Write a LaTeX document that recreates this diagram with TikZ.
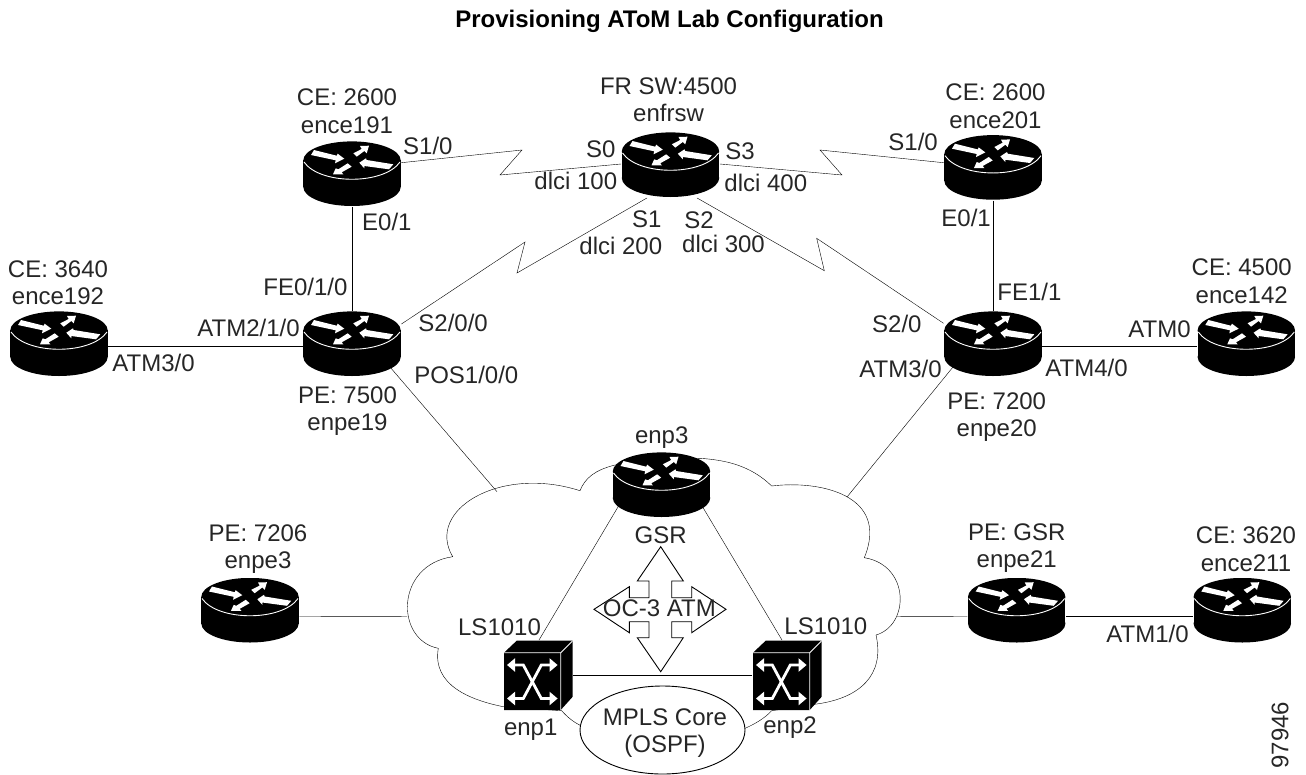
\documentclass[tikz,border=0pt]{standalone}
\usepackage{fontspec}
\setmainfont{Liberation Sans}
\usetikzlibrary{shapes,backgrounds,arrows.meta}
\newcommand{\twolines}[2]{\strut #1\\\strut #2}

\begin{document}
\begin{tikzpicture}[x=1pt,y=-1pt,line width=0.9pt,node distance=100pt,
    font=\fontsize{24}{27.3}\selectfont,
    lbl/.style={align=center,inner sep=0pt,text=black!85},
    ifc/.style={inner sep=0pt,anchor=base west,text=black!85},
    whitecross/.style={white,line width=2.8pt,
      {Triangle[length=8pt,width=13pt]}-{Triangle[length=8pt,width=13pt]}},
    router/.style={rectangle,inner sep=0pt,minimum width=98pt,minimum height=65pt,
      path picture={
        \begin{scope}[shift={(path picture bounding box.center)}]
          \fill (0,-13.6) ellipse [x radius=48.7pt,y radius=19pt];
          \fill (-48.7,-13.6) rectangle (48.7,13);
          \fill (0,13) ellipse [x radius=48.7pt,y radius=19pt];
          \draw[white] (-48,-12) .. controls (-32,11) and (32,11) .. (48,-12);
          \fill[white] (-38,-24) -- (-15.3,-18.3) -- (-14.3,-20.3) -- (-7.7,-15.3)
                -- (-17,-10.7) -- (-16.3,-13.7) -- (-41,-19) -- cycle;
          \fill[white] (17,-28.3) -- (8,-28) -- (9.7,-25) -- (1.3,-20.7)
                -- (4.7,-17.3) -- (12.3,-23) -- (14.7,-20.7) -- cycle;
          \fill[white] (7.3,-11.3) -- (14,-15.7) -- (14.7,-14) -- (41.3,-9.7)
                -- (37,-4.7) -- (12.3,-8) -- (12.3,-5.7) -- cycle;
          \fill[white] (-19,0.3) -- (-16.3,-5.7) -- (-13.7,-4.7) -- (-4.3,-10.7)
                -- (-0.3,-7.3) -- (-10.3,-1.7) -- (-8.7,0.3) -- cycle;
        \end{scope}}},
    atmswitch/.style={rectangle,inner sep=0pt,minimum width=69pt,minimum height=70pt,
      path picture={
        \begin{scope}[shift={(path picture bounding box.center)}]
          \fill (-34,-22.8) -- (-21.3,-34.8) -- (34.7,-34.8) -- (34.7,21.2)
                -- (22.7,34.5) -- (-34,34.5) -- cycle;
          \draw[white] (-34,-22.8) -- (22.7,-22.8) -- (22.7,34.5)
                       (22.7,-22.8) -- (34.7,-34.8);
          \draw[whitecross] (-31,-10.5) -- (-14.7,-10.5) -- (3.3,23) -- (19.6,23);
          \draw[whitecross] (19.6,-10.5) -- (3.3,-10.5) -- (-14.7,23) -- (-31,23);
        \end{scope}}}]

  \useasboundingbox (0,0) rectangle (1306,774);

  \node[anchor=base,inner sep=0pt,font=\fontsize{24}{28}\selectfont\bfseries] (title) at (669.5,27.7)
    {Provisioning AToM Lab Configuration};

  \node[router] (enfrsw) at (670.5,165) {};
  \node[router] (ence191) [left of=enfrsw,node distance=318.5pt,yshift=-9pt] {};
  \node[router] (ence201) [right of=enfrsw,node distance=322.5pt,yshift=-2.7pt] {};
  \node[router] (enpe19)  [below of=ence191,node distance=170pt] {};
  \node[router] (enpe20)  [below of=ence201,node distance=176.3pt] {};
  \node[router] (ence192) [left of=enpe19,node distance=293pt] {};
  \node[router] (ence142) [right of=enpe20,node distance=253.3pt] {};
  \node[router] (enp3) at (661.5,485) {};
  \node[atmswitch] (enp1) at (538,675.5) {};
  \node[atmswitch] (enp2) [right of=enp1,node distance=249pt] {};
  \node[router] (enpe3)   [left of=enp1,node distance=288pt,yshift=65pt] {};
  \node[router] (enpe21)  [right of=enp2,node distance=229.7pt,yshift=65pt] {};
  \node[router] (ence211) [right of=enpe21,node distance=225.6pt] {};

  \node[lbl] (ence191txt) [above of=ence191,node distance=60pt,xshift=-5pt] {\twolines{CE: 2600}{ence191}};
  \node[lbl] (enfrswtxt)  [above of=enfrsw,node distance=62.6pt,xshift=-2pt] {\twolines{FR SW:4500}{enfrsw}};
  \node[lbl] (ence201txt) [above of=ence201,node distance=58.7pt,xshift=2.5pt] {\twolines{CE: 2600}{ence201}};
  \node[lbl] (ence192txt) [above of=ence192,node distance=58.8pt,xshift=-1pt] {\twolines{CE: 3640}{ence192}};
  \node[lbl] (ence142txt) [above of=ence142,node distance=60.1pt,xshift=-4.6pt] {\twolines{CE: 4500}{ence142}};
  \node[lbl] (enpe19txt)  [below of=enpe19,node distance=67.5pt,xshift=-4.5pt] {\twolines{PE: 7500}{enpe19}};
  \node[lbl] (enpe20txt)  [below of=enpe20,node distance=73.2pt,xshift=3.7pt] {\twolines{PE: 7200}{enpe20}};
  \node[lbl] (enpe3txt)   [above of=enpe3,node distance=61.3pt,xshift=8pt] {\twolines{PE: 7206}{enpe3}};
  \node[lbl] (enpe21txt)  [above of=enpe21,node distance=62pt] {\twolines{PE: GSR}{enpe21}};
  \node[lbl] (ence211txt) [above of=ence211,node distance=58.5pt,xshift=3.7pt] {\twolines{CE: 3620}{ence211}};

  \node[ifc,anchor=base] (enp3txt) at (661.7,443) {enp3};
  \node[ifc,anchor=base] (gsrtxt)  at (660.7,543.3) {GSR};
  \node[ifc,anchor=base] (enp1txt) at (530.7,735.7) {enp1};
  \node[ifc,anchor=base] (enp2txt) at (790,733) {enp2};
  \node[ifc] (ls1)   at (457.7,635.7) {LS1010};
  \node[ifc] (ls2)   at (784,634) {LS1010};

  \node[ifc] (s10a)  at (402.7,154) {S1/0};
  \node[ifc] (e01a)  at (361.7,230.7) {E0/1};
  \node[ifc] (fe010) at (263,295.7) {FE0/1/0};
  \node[ifc] (atm210) at (197,336.7) {ATM2/1/0};
  \node[ifc] (atm30a) at (112,371.7) {ATM3/0};
  \node[ifc] (s200)  at (418,331.7) {S2/0/0};
  \node[ifc] (pos100) at (413.8,383) {POS1/0/0};
  \node[ifc] (s0)    at (585.7,157.7) {S0};
  \node[ifc] (dlci1) at (534,189.3) {dlci 100};
  \node[ifc] (s3)    at (725,159.3) {S3};
  \node[ifc] (dlci4) at (724,191.7) {dlci 400};
  \node[ifc] (s1)    at (631.7,227.7) {S1};
  \node[ifc] (dlci2) at (579,254.3) {dlci 200};
  \node[ifc] (s2)    at (684,228.3) {S2};
  \node[ifc] (dlci3) at (681.7,252.7) {dlci 300};
  \node[ifc] (s10b)  at (888,150.7) {S1/0};
  \node[ifc] (e01b)  at (941,226.7) {E0/1};
  \node[ifc] (fe11)  at (997,300.7) {FE1/1};
  \node[ifc] (s20)   at (871.7,332.7) {S2/0};
  \node[ifc] (atm30b) at (859,377) {ATM3/0};
  \node[ifc] (atm40) at (1045,376.7) {ATM4/0};
  \node[ifc] (atm0)  at (1128,337.7) {ATM0};
  \node[ifc] (atm10) at (1106,642.7) {ATM1/0};

  \node[lbl,rotate=90] (figno) at (1280,735) {97946};

  \draw[fill=white] (660.7,546.7) -- (683.3,581) -- (671.7,581) -- (671.7,597.7) -- (691.7,597.7)
    -- (691.7,586.7) -- (726,609.3) -- (691.7,632.7) -- (691.7,621.7) -- (671.7,621.7)
    -- (671.7,637.7) -- (683.3,637.7) -- (660.7,671.7) -- (637.3,637.7) -- (649,637.7)
    -- (649,621.7) -- (629.3,621.7) -- (629.3,632.7) -- (594,609.3) -- (629.3,586.7)
    -- (629.3,597.7) -- (649,597.7) -- (649,581) -- (637.3,581) -- cycle;
  \node[ifc,anchor=base] (ocatm) at (659.3,616.7) {OC-3 ATM};

  \node[ellipse,draw,fill=white,inner sep=0pt,minimum width=165pt,minimum height=88pt]
    (mpls) at (662.5,730) {};
  \node[lbl] (mplstxt) [below of=mpls,node distance=3.4pt,xshift=2.5pt] {\twolines{MPLS Core}{(OSPF)}};

  \coordinate (cloudnw) at (497,491.7);
  \coordinate (cloudne) at (847,497);
  \coordinate (cloudw)  at (407,616.7);
  \coordinate (cloude)  at (897,616.7);
  \coordinate (zz1a) at (522,150);
  \coordinate (zz1b) at (500,175);
  \coordinate (zz2a) at (842,175);
  \coordinate (zz2b) at (820,150);
  \coordinate (zz3a) at (517,273);
  \coordinate (zz3b) at (525,242);
  \coordinate (zz4a) at (824.3,270.7);
  \coordinate (zz4b) at (816.7,238.3);

  \begin{scope}[on background layer]
    \draw (615,465) .. controls (595,470) and (585,478) .. (580,490.7)
      .. controls (500,465) and (425,510) .. (452.7,556.7)
      .. controls (395,565) and (395,640) .. (438.3,648.3)
      .. controls (432,685) and (470,700) .. (503.3,706.7)
      -- (561.7,710.7) .. controls (568,718) and (575,723) .. (581.7,726)
      -- (745,728.3) .. controls (755,724) and (765,718) .. (771.7,710.7)
      -- (816.7,704) .. controls (860,698) and (885,675) .. (876,635)
      .. controls (910,625) and (910,565) .. (864.3,557.7)
      .. controls (890,495) and (820,480) .. (771.7,486)
      .. controls (750,465) and (725,460) .. (700,458.3) -- cycle;

    \path (ence191) edge (enpe19)
          (ence201) edge (enpe20)
          (enp1)    edge (enp2);
    \draw ([yshift=-2pt]ence192.east) -- ([yshift=-2pt]enpe19.west);
    \draw ([yshift=-2pt]enpe20.east) -- ([yshift=-2pt]ence142.west);
    \draw ([yshift=-6pt]enpe21.east) -- ([yshift=-6pt]ence211.west);
    \draw ([yshift=-6pt]enpe3.east) -- (cloudw);
    \draw ([yshift=-6pt]enpe21.west) -- (cloude);
    \draw ([xshift=38pt,yshift=-23pt]enpe19.center) -- (cloudnw);
    \draw ([xshift=-40pt,yshift=-23pt]enpe20.center) -- (cloudne);
    \draw ([xshift=-40pt,yshift=-16pt]enp3.center) -- ([xshift=1pt]enp1.north);
    \draw ([xshift=37pt,yshift=-15pt]enp3.center) -- ([xshift=-5pt]enp2.north);
    \draw ([yshift=11.3pt]ence191.east) -- (zz1a) -- (zz1b) -- ([yshift=1pt]enfrsw.west);
    \draw ([yshift=1pt]enfrsw.east) -- (zz2a) -- (zz2b) -- ([yshift=5pt]ence201.west);
    \draw ([xshift=-23.5pt]enfrsw.south) -- (zz3a) -- (zz3b) -- ([yshift=20pt]enpe19.east);
    \draw ([xshift=26.5pt]enfrsw.south) -- (zz4a) -- (zz4b) -- ([yshift=20.7pt]enpe20.west);
  \end{scope}
\end{tikzpicture}
\end{document}
